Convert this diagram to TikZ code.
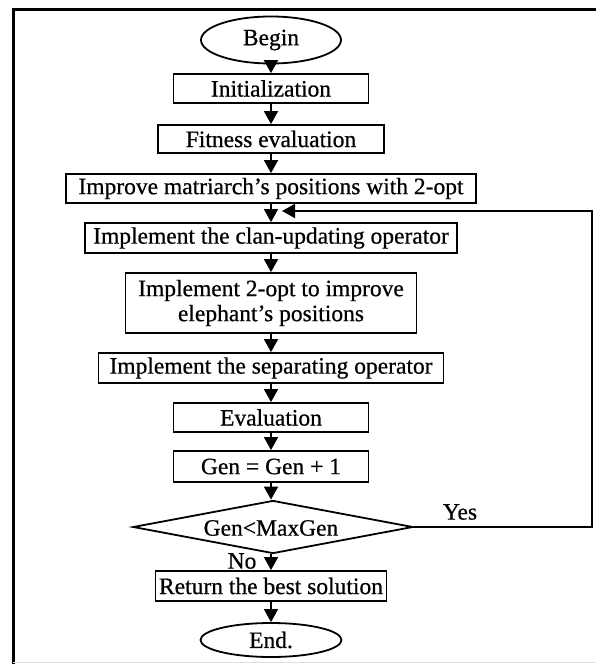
\documentclass[tikz,border=0pt]{standalone}
\usepackage{fontspec}
\setmainfont{Liberation Serif}[UprightFeatures={FakeBold=0.6}]
\usetikzlibrary{shapes.geometric,arrows.meta}
\begin{document}
\begin{tikzpicture}[x=1pt,y=-1pt,
  box/.style={draw,line width=1.8pt,rectangle,inner sep=0pt,align=center},
  term/.style={draw,line width=1.8pt,ellipse,inner sep=0pt},
  dec/.style={draw,line width=1.8pt,diamond,aspect=5.3,inner sep=0pt},
  arr/.style={line width=1.8pt,-{Triangle[width=14pt,length=13pt]}},
  lbl/.style={inner sep=0pt},
  every node/.style={font=\fontsize{23.5}{25}\selectfont}]
\useasboundingbox (0,0) rectangle (596,664);
\fill[white] (0,0) rectangle (596,664);
% frame
\draw[line width=3pt] (13,664) -- (13,9.5) -- (596,9.5);
\draw[line width=0.8pt,black!12] (13,662.5) -- (596,662.5);
% nodes
\node[term,minimum width=140pt,minimum height=47pt] (begin) at (271,40) {Begin};
\node[box,minimum width=195pt,minimum height=29pt] (init) at (271,88.5) {Initialization};
\node[box,minimum width=226pt,minimum height=28pt] (fit) at (271,139) {Fitness evaluation};
\node[box,minimum width=410pt,minimum height=29pt] (impr) at (271,188.5) {Improve matriarch’s positions with 2-opt};
\node[box,minimum width=372pt,minimum height=30pt] (clan) at (271,238) {Implement the clan-updating operator};
\node[box,minimum width=291pt,minimum height=60pt] (two) at (271,303) {Implement 2-opt to improve\\elephant’s positions};
\node[box,minimum width=345pt,minimum height=30pt] (sep) at (271,368) {Implement the separating operator};
\node[box,minimum width=195pt,minimum height=29pt] (eval) at (271,417.5) {Evaluation};
\node[box,minimum width=195pt,minimum height=31pt] (gen) at (271,466.5) {Gen = Gen + 1};
\node[dec,minimum width=280pt,minimum height=53pt] (dec) at (273,527) {};
\node[lbl] (dect) at (271,528) {Gen<MaxGen};
\node[box,minimum width=231pt,minimum height=30pt] (ret) at (271,586) {Return the best solution};
\node[term,minimum width=141pt,minimum height=34pt] (end) at (271,640) {End.};
\node[lbl] (yes) at (460,512) {Yes};
\node[lbl] (no) at (242,561) {No};
% connectors
\draw[arr] (begin) -- (init);
\draw[arr] (init) -- (fit);
\draw[arr] (fit) -- (impr);
\draw[arr] (impr) -- (clan);
\draw[arr] (clan) -- (two);
\draw[arr] (two) -- (sep);
\draw[arr] (sep) -- (eval);
\draw[arr] (eval) -- (gen);
\draw[arr] (gen) -- (dec.north -| gen);
\draw[arr] (dec.south -| ret) -- (ret);
\draw[arr] (ret) -- (end);
\coordinate (lp) at (592,211);
\coordinate (tip) at (282,211);
\draw[arr] (dec.east) -- (dec.east -| lp) -- (lp) -- (tip);
\end{tikzpicture}
\end{document}
